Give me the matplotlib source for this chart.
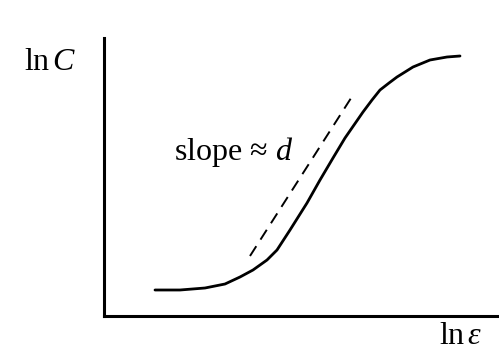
import numpy as np
import matplotlib
matplotlib.use("Agg")
import matplotlib.pyplot as plt

plt.rcParams['font.family'] = ['Liberation Serif', 'DejaVu Serif']
plt.rcParams['mathtext.fontset'] = 'custom'
plt.rcParams['mathtext.rm'] = 'Liberation Serif'
plt.rcParams['mathtext.it'] = 'Liberation Serif:italic'

# sketch of the correlation sum: flat, linear rise, saturation
ln_eps = [51, 76, 101, 121, 136, 149, 156, 163, 173, 186, 203, 216, 229, 241,
          259, 268, 276, 285, 293, 309, 326, 343, 356]
ln_C = [26, 26, 28, 32, 39, 46, 51, 56, 66, 86, 113, 136, 158, 178,
        204, 216, 226, 233, 239, 249, 256, 259, 260]

# dashed guide for the scaling region
guide_x = [146, 249]
guide_y = [60, 221]

fig = plt.figure(figsize=(4.99, 3.5), dpi=100)
W, H = 499, 350
ax = fig.add_axes([104 / W, (H - 316) / H, (W - 104) / W, (316 - 38) / H])
ax.set_xlim(0, W - 104)
ax.set_ylim(0, 316 - 38)

ax.plot(ln_eps, ln_C, color='black', lw=2.0, solid_capstyle='round',
        solid_joinstyle='round')
ax.plot(guide_x, guide_y, color='black', lw=1.4, dashes=(6, 4))

for s in ['top', 'right']:
    ax.spines[s].set_visible(False)
for s in ['left', 'bottom']:
    ax.spines[s].set_linewidth(2.2)
ax.set_xticks([])
ax.set_yticks([])

fig.text(50 / W, 1 - 63 / H, r'$\mathrm{ln}\,C$', fontsize=23, ha='center', va='center')
fig.text(461 / W, 1 - 337 / H, r'$\mathrm{ln}\,\varepsilon$', fontsize=23, ha='center', va='center')
fig.text(174 / W, 1 - 152 / H, 'slope ≈ $d$', fontsize=23, ha='left', va='center')

fig.savefig('out.png', dpi=100)
